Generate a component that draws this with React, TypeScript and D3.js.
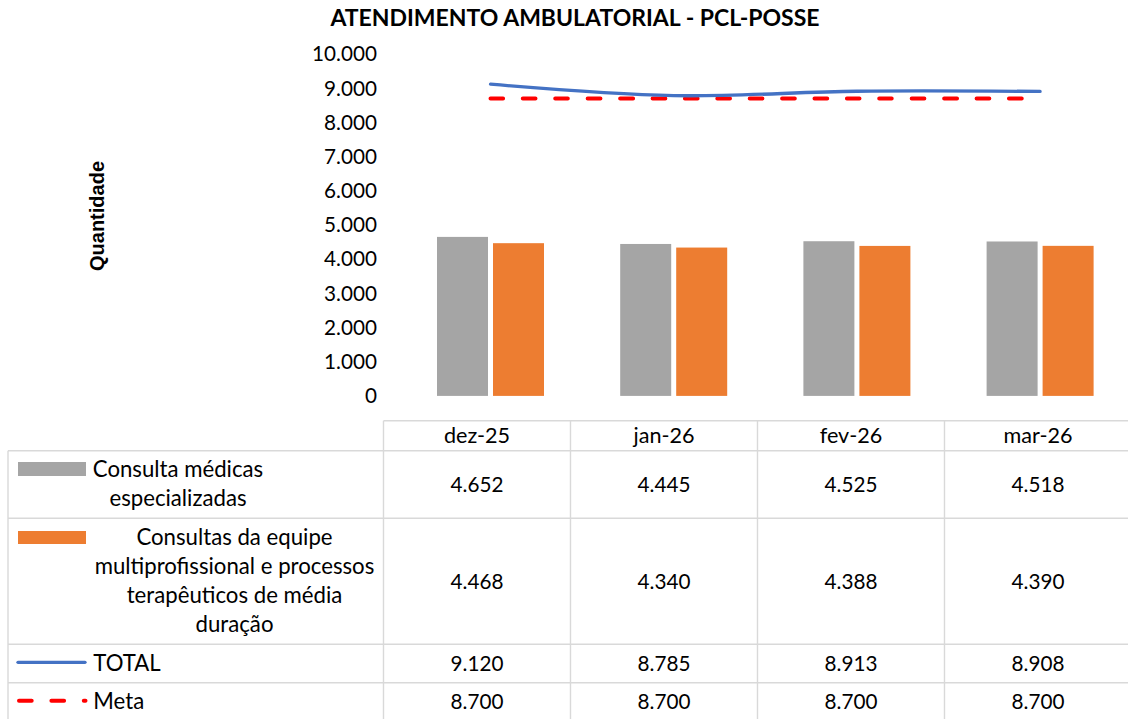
import React, { useEffect, useRef } from "react";
import * as d3 from "d3";

const months = ["dez-25", "jan-26", "fev-26", "mar-26"];
const consultasMedicas = [4652, 4445, 4525, 4518];
const consultasMulti = [4468, 4340, 4388, 4390];
const total = [9120, 8785, 8913, 8908];
const meta = [8700, 8700, 8700, 8700];
const yTicks = [0, 1000, 2000, 3000, 4000, 5000, 6000, 7000, 8000, 9000, 10000];

const legendMedicas = ["Consulta médicas", "especializadas"];
const legendMulti = [
  "Consultas da equipe",
  "multiprofissional e processos",
  "terapêuticos de média",
  "duração",
];

const FONT = "Lato, 'Open Sans', sans-serif";
const GRAY = "#A5A5A5";
const ORANGE = "#ED7D31";
const BLUE = "#4472C4";
const RED = "#FF0000";
const GRID = "#D9D9D9";

const fmt = d3
  .formatLocale({ decimal: ",", thousands: ".", grouping: [3], currency: ["R$", ""] })
  .format(",d");

const App = () => {
  const ref = useRef<SVGSVGElement>(null);

  useEffect(() => {
    const svg = d3.select(ref.current);
    svg.selectAll("*").remove();

    const x = d3.scaleBand().domain(months).range([398.9, 1131.7]);
    const y = d3.scaleLinear().domain([0, 10000]).range([395.9, 54.1]);
    const cx = (m: string) => (x(m) as number) + x.bandwidth() / 2;

    // title
    svg
      .append("text")
      .attr("x", 575)
      .attr("y", 18)
      .attr("dy", "0.35em")
      .attr("text-anchor", "middle")
      .attr("font-family", FONT)
      .attr("font-weight", "bold")
      .attr("font-size", 23)
      .text("ATENDIMENTO AMBULATORIAL - PCL-POSSE");

    // axis title
    svg
      .append("text")
      .attr("transform", "translate(97,216) rotate(-90)")
      .attr("dy", "0.35em")
      .attr("text-anchor", "middle")
      .attr("font-family", "'Liberation Sans', Arial, sans-serif")
      .attr("font-weight", "bold")
      .attr("font-size", 20)
      .text("Quantidade");

    // y labels
    svg
      .append("g")
      .selectAll("text")
      .data(yTicks)
      .enter()
      .append("text")
      .attr("x", 377)
      .attr("y", (d) => y(d))
      .attr("dy", "0.35em")
      .attr("text-anchor", "end")
      .attr("font-family", FONT)
      .attr("font-size", 20.7)
      .text((d) => fmt(d));

    // bars
    const bars = svg.append("g");
    bars
      .selectAll(".med")
      .data(months)
      .enter()
      .append("rect")
      .attr("x", (m) => cx(m) - 53.5)
      .attr("width", 51)
      .attr("y", (m, i) => y(consultasMedicas[i]))
      .attr("height", (m, i) => y(0) - y(consultasMedicas[i]))
      .attr("fill", GRAY);
    bars
      .selectAll(".multi")
      .data(months)
      .enter()
      .append("rect")
      .attr("x", (m) => cx(m) + 2.5)
      .attr("width", 51)
      .attr("y", (m, i) => y(consultasMulti[i]))
      .attr("height", (m, i) => y(0) - y(consultasMulti[i]))
      .attr("fill", ORANGE);

    // lines
    const line = d3
      .line<number>()
      .x((d, i) => cx(months[i]))
      .y((d) => y(d))
      .curve(d3.curveCardinal.tension(0));

    svg
      .append("path")
      .attr("d", line(meta))
      .attr("fill", "none")
      .attr("stroke", RED)
      .attr("stroke-width", 4)
      .attr("stroke-linecap", "round")
      .attr("stroke-dasharray", "12.7 19.7");

    svg
      .append("path")
      .attr("d", line(total))
      .attr("fill", "none")
      .attr("stroke", BLUE)
      .attr("stroke-width", 3.3)
      .attr("stroke-linecap", "round");

    // data table
    const col = d3.scaleBand().domain(months).range([383.5, 1131.5]);
    const rowY = [420.7, 450.7, 518.3, 644.3, 682.7, 721];
    const tbl = svg.append("g").attr("stroke", GRID).attr("stroke-width", 1.4);
    tbl.append("line").attr("x1", 383.5).attr("x2", 1131.5).attr("y1", rowY[0]).attr("y2", rowY[0]);
    rowY.slice(1, 5).forEach((ry) => {
      tbl.append("line").attr("x1", 8).attr("x2", 1131.5).attr("y1", ry).attr("y2", ry);
    });
    tbl.append("line").attr("x1", 8).attr("x2", 8).attr("y1", rowY[1]).attr("y2", rowY[5]);
    months.forEach((m) => {
      const cxl = col(m) as number;
      tbl.append("line").attr("x1", cxl).attr("x2", cxl).attr("y1", rowY[0]).attr("y2", rowY[5]);
    });

    const rows = [consultasMedicas, consultasMulti, total, meta];
    const cells = svg
      .append("g")
      .attr("font-family", FONT)
      .attr("font-size", 20.7)
      .attr("text-anchor", "middle");
    months.forEach((m, j) => {
      const ccx = (col(m) as number) + col.bandwidth() / 2;
      cells
        .append("text")
        .attr("x", ccx)
        .attr("y", (rowY[0] + rowY[1]) / 2)
        .attr("dy", "0.35em")
        .attr("font-size", 21.6)
        .text(m);
      rows.forEach((r, k) => {
        cells
          .append("text")
          .attr("x", ccx)
          .attr("y", (rowY[k + 1] + rowY[k + 2]) / 2)
          .attr("dy", "0.35em")
          .text(fmt(r[j]));
      });
    });

    // legend column
    const leg = svg.append("g").attr("font-family", FONT).attr("font-size", 22.2);
    leg.append("rect").attr("x", 18).attr("y", 462).attr("width", 68).attr("height", 14).attr("fill", GRAY);
    leg
      .selectAll(".l1")
      .data(legendMedicas)
      .enter()
      .append("text")
      .attr("x", 178)
      .attr("y", (d, i) => 469 + i * 29)
      .attr("dy", "0.35em")
      .attr("text-anchor", "middle")
      .text((d) => d);

    leg.append("rect").attr("x", 18).attr("y", 531).attr("width", 68).attr("height", 13).attr("fill", ORANGE);
    leg
      .selectAll(".l2")
      .data(legendMulti)
      .enter()
      .append("text")
      .attr("x", 234.5)
      .attr("y", (d, i) => 537.5 + i * 29)
      .attr("dy", "0.35em")
      .attr("text-anchor", "middle")
      .text((d) => d);

    leg
      .append("line")
      .attr("x1", 18)
      .attr("x2", 85)
      .attr("y1", 662.3)
      .attr("y2", 662.3)
      .attr("stroke", BLUE)
      .attr("stroke-width", 3.3)
      .attr("stroke-linecap", "round");
    leg.append("text").attr("x", 93.3).attr("y", 663).attr("dy", "0.35em").text("TOTAL");

    leg
      .append("line")
      .attr("x1", 19)
      .attr("x2", 85.5)
      .attr("y1", 700.7)
      .attr("y2", 700.7)
      .attr("stroke", RED)
      .attr("stroke-width", 4)
      .attr("stroke-linecap", "round")
      .attr("stroke-dasharray", "12.7 19.7");
    leg.append("text").attr("x", 93.3).attr("y", 701).attr("dy", "0.35em").text("Meta");
  }, []);

  return (
    <svg
      ref={ref}
      width={1128}
      height={719}
      style={{ position: "absolute", left: 0, top: 0, background: "#fff" }}
    ></svg>
  );
};

export default App;
